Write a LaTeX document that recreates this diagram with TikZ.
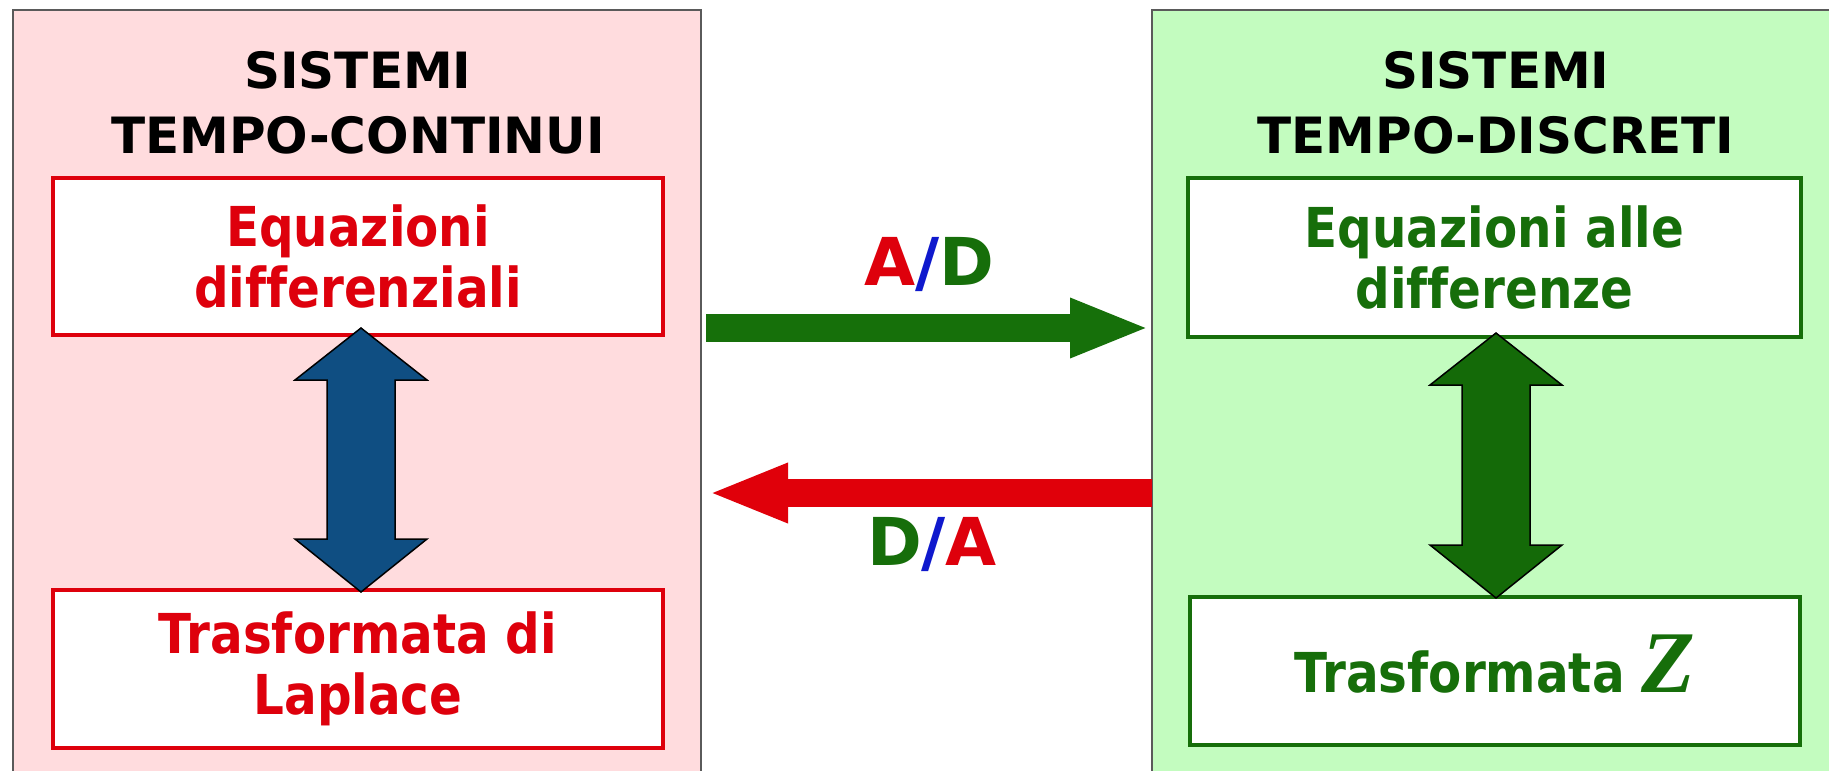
\documentclass[tikz,border=0pt]{standalone}
\usepackage{fontspec}
\setmainfont{DejaVu Sans}
\newfontfamily\condf{DejaVu Sans}[FakeStretch=0.88, Ligatures=NoCommon]
\newfontfamily\zfont{Liberation Serif}
\usetikzlibrary{calc,arrows.meta}
\definecolor{pinkbg}{RGB}{255,220,222}
\definecolor{greenbg}{RGB}{195,252,191}
\definecolor{redc}{RGB}{222,0,12}
\definecolor{greenc}{RGB}{22,110,10}
\definecolor{bluec}{RGB}{15,78,130}
\definecolor{dgreen}{RGB}{20,106,8}
\definecolor{slashblue}{RGB}{15,25,205}
\definecolor{bordergray}{RGB}{90,90,90}
\definecolor{argreen}{RGB}{22,112,10}
\definecolor{arred}{RGB}{224,0,10}
\tikzset{
  panel/.style={draw=bordergray, line width=2.5pt, minimum width=688pt, minimum height=790pt, inner sep=0pt, outer sep=0pt},
  titletext/.style={align=center, inner sep=0pt, font=\bfseries\fontsize{50}{65}\selectfont},
  cbox/.style={line width=4pt, fill=white, minimum width=610pt, inner sep=0pt, outer sep=0pt, align=center,
    font=\condf\bfseries\fontsize{55}{61}\selectfont},
  redbox/.style={cbox, draw=redc, text=redc},
  greenbox/.style={cbox, draw=greenc, text=greenc},
  fatarr/.style={draw=black, line width=1.5pt, line join=miter},
  convarrow/.style={line width=28pt, -{Triangle[length=80pt,width=54pt]}},
  adlabel/.style={inner sep=0pt, font=\bfseries\fontsize{66}{66}\selectfont}
}
\newcommand\dblarrow[3]{%
  \draw[fatarr, fill=#3] let \p1=(#1), \p2=(#2) in
    (\p1) -- (\x1+66pt,\y1-52pt) -- (\x1+34pt,\y1-52pt) -- (\x1+34pt,\y2+53pt)
    -- (\x1+66pt,\y2+53pt) -- (\x1,\y2) -- (\x1-66pt,\y2+53pt) -- (\x1-34pt,\y2+53pt)
    -- (\x1-34pt,\y1-52pt) -- (\x1-66pt,\y1-52pt) -- cycle;}
\begin{document}
\begin{tikzpicture}[x=1pt,y=-1pt]
\useasboundingbox (0,0) rectangle (1829,771);
\clip (0,0) rectangle (1829,771);
\fill[white] (0,0) rectangle (1829,771);
% panels
\node[panel, fill=pinkbg] (LP) at (357,405) {};
\node[panel, fill=greenbg] (RP) at (1496,405) {};
% titles
\node[titletext, anchor=north] (LT) at (358,51) {SISTEMI\\TEMPO-CONTINUI};
\node[titletext, anchor=north] (RT) at (1496,51) {SISTEMI\\TEMPO-DISCRETI};
% boxes
\node[redbox, minimum height=157pt] (EQL) at (358,256.5) {Equazioni\\differenziali};
\node[redbox, minimum height=158pt] (TRL) at (358,669) {Trasformata di\\Laplace};
\node[greenbox, minimum width=613pt, minimum height=159pt] (EQR) at (1494.5,257.5) {Equazioni alle\\differenze};
\node[greenbox, minimum height=148pt, text height=57pt, text depth=15pt] (TRR) at (1495,671)
  {Trasformata {\zfont\bfseries\itshape\fontsize{88}{88}\selectfont Z}};
% double arrows
\dblarrow{$(EQL.south)+(3,-7)$}{$(TRL.north)+(3,2)$}{bluec}
\dblarrow{$(EQR.south)+(1.5,-4)$}{$(TRR.north)+(1,1)$}{dgreen}
% conversion arrows
\coordinate (adY) at (0,328);
\coordinate (daY) at (0,493);
\draw[convarrow, argreen] ($(LP.east |- adY)+(5,0)$) -- ($(RP.west |- adY)+(-2,0)$);
\draw[convarrow, arred] (RP.west |- daY) -- ($(LP.east |- daY)+(7,0)$);
% labels
\node[adlabel, anchor=base] (AD) at (929,285) {\textcolor{redc}{A}\textcolor{slashblue}{/}\textcolor{greenc}{D}};
\node[adlabel, anchor=base] (DA) at (932,565) {\textcolor{greenc}{D}\textcolor{slashblue}{/}\textcolor{redc}{A}};
\end{tikzpicture}
\end{document}
